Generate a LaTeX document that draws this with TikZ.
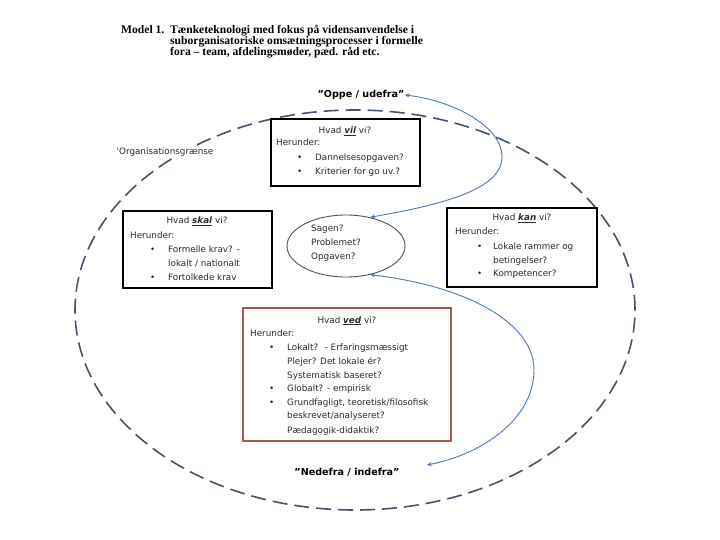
\documentclass[tikz,border=0pt]{standalone}
\usepackage{fontspec}
\newfontfamily\dv{DejaVu Sans}
\newfontfamily\tms{Liberation Serif}
\usetikzlibrary{shapes.geometric,arrows.meta}
\definecolor{orgc}{HTML}{46536D}
\definecolor{flowc}{HTML}{4F79B8}
\definecolor{vedred}{HTML}{A85656}
\definecolor{txtc}{HTML}{2A2A2A}
\tikzset{
  box/.style={draw=black, line width=1.4pt, rectangle, inner sep=0pt},
  txt/.style={font=\dv\fontsize{8.8}{11}\selectfont, text=txtc, inner sep=0pt, anchor=base west},
  ctxt/.style={txt, anchor=base},
  titletxt/.style={font=\tms\bfseries\fontsize{11.6}{12}\selectfont, inner sep=0pt, anchor=base west},
  pole/.style={font=\dv\bfseries\fontsize{9.6}{11}\selectfont, inner sep=0pt},
  flow/.style={draw=flowc, line width=0.9pt, {Stealth[length=5pt,width=4pt]}-{Stealth[length=5pt,width=4pt]}},
}
\newcommand{\kw}[1]{\underline{\textbf{\textit{#1}}}}
\begin{document}
\begin{tikzpicture}[x=1pt,y=-1pt]
\useasboundingbox[fill=white] (0,0) rectangle (720,540);
% title
\node[titletxt] (t0) at (121,34) {Model 1.};
\node[titletxt] (t1) at (170,34) {Tænketeknologi med fokus på vidensanvendelse i};
\node[titletxt] (t2) at (170,45) {suborganisatoriske omsætningsprocesser i formelle};
\node[titletxt] (t3) at (170,56) {fora – team, afdelingsmøder, pæd. råd etc.};
% organisation boundary
\node[ellipse, draw=orgc, line width=1.6pt, dash pattern=on 15pt off 7pt, minimum width=560pt, minimum height=400pt, inner sep=0pt] (org) at (355,310) {};
\node[txt, fill=white, inner sep=1.5pt] (orglab) at (115,155) {'Organisationsgrænse};
% poles
\node[pole] (oppe) at (361,95) {”Oppe / udefra”};
\node[pole] (nedefra) at (347,472) {”Nedefra / indefra”};
% vil box
\node[box, minimum width=149pt, minimum height=67pt] (vil) at (345.5,152.5) {};
\node[ctxt] (vil0) at (345,134) {Hvad \kw{vil} vi?};
\node[txt] (vil1) at (276,146) {Herunder:};
\node[txt] (vilb1) at (297,161) {•};
\node[txt] (vil2) at (315,161) {Dannelsesopgaven?};
\node[txt] (vilb2) at (297,175) {•};
\node[txt] (vil3) at (315,175) {Kriterier for go uv.?};
% skal box
\node[box, minimum width=149pt, minimum height=77pt] (skal) at (197.5,249.5) {};
\node[ctxt] (skal0) at (197,224) {Hvad \kw{skal} vi?};
\node[txt] (skal1) at (130,238) {Herunder:};
\node[txt] (skalb1) at (150,252) {•};
\node[txt] (skal2) at (168,252) {Formelle krav? -};
\node[txt] (skal3) at (168,266) {lokalt / nationalt};
\node[txt] (skalb2) at (150,280) {•};
\node[txt] (skal4) at (168,280) {Fortolkede krav};
% kan box
\node[box, minimum width=150pt, minimum height=79pt] (kan) at (522,247.5) {};
\node[ctxt] (kan0) at (522,221) {Hvad \kw{kan} vi?};
\node[txt] (kan1) at (455,235) {Herunder:};
\node[txt] (kanb1) at (477,249) {•};
\node[txt] (kan2) at (493,249) {Lokale rammer og};
\node[txt] (kan3) at (493,263) {betingelser?};
\node[txt] (kanb2) at (477,276) {•};
\node[txt] (kan4) at (493,276) {Kompetencer?};
% ved box
\node[box, draw=vedred, line width=1.8pt, minimum width=208pt, minimum height=133pt] (ved) at (347,374.5) {};
\node[ctxt] (ved0) at (347,323) {Hvad \kw{ved} vi?};
\node[txt] (ved1) at (250,336) {Herunder:};
\node[txt] (vedb1) at (269,350) {•};
\node[txt] (ved2) at (287,350) {Lokalt?~ - Erfaringsmæssigt};
\node[txt] (ved3) at (287,364) {Plejer? Det lokale ér?};
\node[txt] (ved4) at (287,378) {Systematisk baseret?};
\node[txt] (vedb2) at (269,391) {•};
\node[txt] (ved5) at (287,391) {Globalt? - empirisk};
\node[txt] (vedb3) at (269,405) {•};
\node[txt] (ved6) at (287,405) {Grundfagligt, teoretisk/filosofisk};
\node[txt] (ved7) at (287,418) {beskrevet/analyseret?};
\node[txt] (ved8) at (287,433) {Pædagogik-didaktik?};
% centre ellipse
\node[ellipse, draw=orgc, line width=0.9pt, minimum width=118pt, minimum height=62pt, inner sep=0pt] (sagen) at (346,246) {};
\node[txt] (s1) at (311,231) {Sagen?};
\node[txt] (s2) at (311,245) {Problemet?};
\node[txt] (s3) at (311,259) {Opgaven?};
% connectors
\draw[flow] (sagen.50) .. controls (440,205) and (502,190) .. (502,157) .. controls (502,125) and (450,100) .. (oppe.east);
\draw[flow] (sagen.-50) .. controls (460,285) and (534,320) .. (534,370) .. controls (534,420) and (480,455) .. ([shift={(27,-7)}]nedefra.east);
\end{tikzpicture}
\end{document}
